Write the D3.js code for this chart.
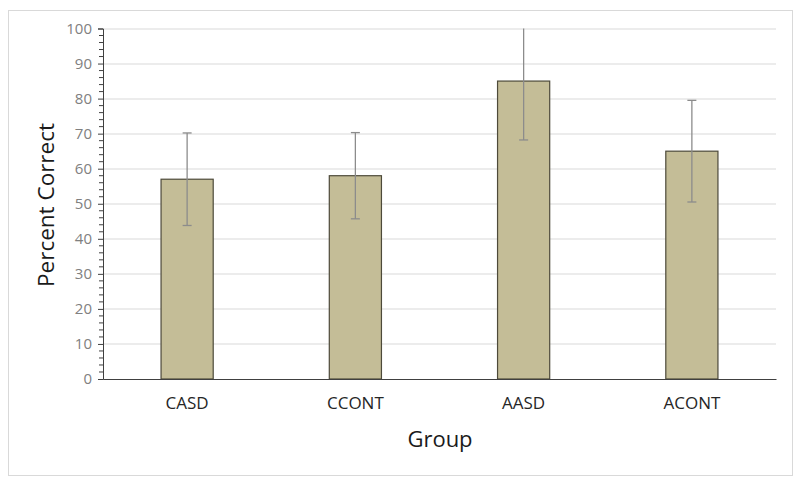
<!DOCTYPE html>
<html>
<head>
<meta charset="utf-8">
<script src="https://cdn.jsdelivr.net/npm/d3@7"></script>
<style>
  body { margin: 0; background: #fff; }
  svg { display: block; font-family: "Open Sans", "Noto Sans", sans-serif; }
</style>
</head>
<body>
<svg id="chart" width="800" height="487"></svg>
<script>
// data
const groups = ['CASD', 'CCONT', 'AASD', 'ACONT'];
const means = [57, 58, 85, 65];
const errors = [13.2, 12.3, 16.8, 14.5];
const yTicks = [0, 10, 20, 30, 40, 50, 60, 70, 80, 90, 100];

const svg = d3.select('#chart');
const margin = { left: 103, right: 24, top: 28.5, bottom: 108 };
const width = 800 - margin.left - margin.right;
const height = 487 - margin.top - margin.bottom;
const font = '"Open Sans", "Noto Sans", sans-serif';

// outer frame
svg.append('rect')
    .attr('x', 8.5).attr('y', 10.5)
    .attr('width', 784).attr('height', 465)
    .attr('fill', '#fff')
    .attr('stroke', '#d9d9d9')
    .attr('stroke-width', 1);

const g = svg.append('g')
    .attr('transform', `translate(${margin.left},${margin.top})`);

const x = d3.scaleBand()
    .domain(groups)
    .range([0, width])
    .paddingInner(0.69)
    .paddingOuter(0.345);

const y = d3.scaleLinear()
    .domain([0, 100])
    .range([height, 0]);

// gridlines
g.append('g')
    .selectAll('line')
    .data(yTicks.filter(d => d > 0))
    .join('line')
    .attr('x1', 0).attr('x2', width)
    .attr('y1', d => Math.round(y(d)) + 0.5)
    .attr('y2', d => Math.round(y(d)) + 0.5)
    .attr('stroke', '#d9d9d9')
    .attr('stroke-width', 1);

// bars
g.selectAll('rect.bar')
    .data(groups)
    .join('rect')
    .attr('class', 'bar')
    .attr('x', d => x(d))
    .attr('y', (d, i) => y(means[i]))
    .attr('width', x.bandwidth())
    .attr('height', (d, i) => height - y(means[i]))
    .attr('fill', '#c4bd97')
    .attr('stroke', '#4d4a3a')
    .attr('stroke-width', 1.2);

// error bars (clipped to the axis max)
const idx = d => groups.indexOf(d);
const cx = d => x(d) + x.bandwidth() / 2;
const hi = d => Math.min(100, means[idx(d)] + errors[idx(d)]);
const lo = d => Math.max(0, means[idx(d)] - errors[idx(d)]);

const eb = g.append('g').selectAll('g')
    .data(groups)
    .join('g')
    .attr('stroke', '#8c8c8c')
    .attr('stroke-width', 1.3);

eb.append('line')
    .attr('x1', cx).attr('x2', cx)
    .attr('y1', d => y(hi(d)))
    .attr('y2', d => y(lo(d)));

eb.append('line')
    .attr('x1', d => cx(d) - 4.5).attr('x2', d => cx(d) + 4.5)
    .attr('y1', d => y(lo(d))).attr('y2', d => y(lo(d)));

eb.filter(d => means[idx(d)] + errors[idx(d)] <= 100)
    .append('line')
    .attr('x1', d => cx(d) - 4.5).attr('x2', d => cx(d) + 4.5)
    .attr('y1', d => y(hi(d))).attr('y2', d => y(hi(d)));

// y axis with minor ticks
const minor = d3.range(0, 101, 2).filter(d => d % 10 !== 0);
g.append('g')
    .selectAll('line')
    .data(minor)
    .join('line')
    .attr('x1', -4).attr('x2', 0)
    .attr('y1', d => y(d)).attr('y2', d => y(d))
    .attr('stroke', '#404040');

const yAxis = g.append('g')
    .call(d3.axisLeft(y).tickValues(yTicks).tickSize(5).tickPadding(6))
    .attr('font-family', font);
yAxis.select('.domain').attr('stroke', '#404040');
yAxis.selectAll('.tick line').attr('stroke', '#404040');
yAxis.selectAll('.tick text')
    .attr('fill', '#808080')
    .style('font-size', '15px');

// x axis
const xAxis = g.append('g')
    .attr('transform', `translate(0,${height})`)
    .call(d3.axisBottom(x).tickSize(0).tickPadding(18))
    .attr('font-family', font);
xAxis.select('.domain').attr('stroke', '#404040').attr('stroke-width', 1.2);
xAxis.selectAll('.tick text')
    .attr('fill', '#262626')
    .style('font-size', '17px');

// axis titles
svg.append('text')
    .attr('transform', 'translate(54,205) rotate(-90)')
    .attr('text-anchor', 'middle')
    .attr('fill', '#1a1a1a')
    .style('font-size', '22.5px')
    .text('Percent Correct');

svg.append('text')
    .attr('x', 440).attr('y', 447)
    .attr('text-anchor', 'middle')
    .attr('fill', '#1a1a1a')
    .style('font-size', '22px')
    .text('Group');
</script>
</body>
</html>
